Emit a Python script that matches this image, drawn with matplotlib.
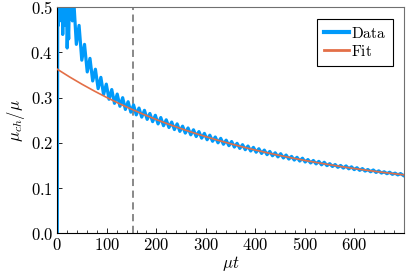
import matplotlib
matplotlib.use("Agg")
import matplotlib.pyplot as plt
from matplotlib.ticker import MultipleLocator

plt.rcParams['mathtext.fontset'] = 'cm'
plt.rcParams['font.family'] = ['DejaVu Serif']

# ---- data ----
# early irregular part
early_t = [0, 0.5, 1, 2, 3.5, 5, 6.5, 8, 9.5, 11, 12.5, 14, 15.5, 17, 18.5, 20, 21.5,
           23, 24.5, 26, 27.5, 29, 30.5]
early_v = [0, 0.25, 0.55, 0.46, 0.58, 0.47, 0.56, 0.49, 0.60, 0.44, 0.55, 0.48, 0.57,
           0.46, 0.52, 0.41, 0.47, 0.43, 0.52, 0.58, 0.49, 0.55, 0.47]

# oscillation maxima
peak_t = [33, 44, 55, 66, 77, 88, 99, 110, 121, 132, 143, 154, 165, 176, 187, 198, 209,
          220, 231, 242, 253, 264, 275, 286, 297, 308, 319, 330, 341, 352, 363, 374, 385,
          396, 407, 418, 429, 440, 451, 462, 473, 484, 495, 506, 517, 528, 539, 550, 561,
          572, 583, 594, 605, 616, 627, 638, 649, 660, 671, 682, 693]
peak_v = [0.521, 0.460, 0.418, 0.387, 0.363, 0.345, 0.330, 0.318, 0.308, 0.300, 0.291,
          0.284, 0.277, 0.272, 0.265, 0.261, 0.256, 0.251, 0.246, 0.242, 0.237, 0.233,
          0.229, 0.225, 0.221, 0.217, 0.213, 0.210, 0.206, 0.203, 0.199, 0.196, 0.193,
          0.190, 0.187, 0.184, 0.181, 0.178, 0.176, 0.173, 0.170, 0.168, 0.166, 0.163,
          0.161, 0.159, 0.157, 0.154, 0.152, 0.150, 0.149, 0.147, 0.145, 0.143, 0.141,
          0.140, 0.138, 0.136, 0.135, 0.133, 0.132]
# oscillation minima
trough_t = [38.5, 49.5, 60.5, 71.5, 82.5, 93.5, 104.5, 115.5, 126.5, 137.5, 148.5, 159.5,
            170.5, 181.5, 192.5, 203.5, 214.5, 225.5, 236.5, 247.5, 258.5, 269.5, 280.5,
            291.5, 302.5, 313.5, 324.5, 335.5, 346.5, 357.5, 368.5, 379.5, 390.5, 401.5,
            412.5, 423.5, 434.5, 445.5, 456.5, 467.5, 478.5, 489.5, 500.5, 511.5, 522.5,
            533.5, 544.5, 555.5, 566.5, 577.5, 588.5, 599.5, 610.5, 621.5, 632.5, 643.5,
            654.5, 665.5, 676.5, 687.5, 698.5]
trough_v = [0.418, 0.383, 0.357, 0.337, 0.320, 0.307, 0.2965, 0.2875, 0.281, 0.274, 0.268,
            0.262, 0.257, 0.252, 0.247, 0.242, 0.238, 0.234, 0.2295, 0.2255, 0.2216, 0.2178,
            0.214, 0.2104, 0.2069, 0.2035, 0.2001, 0.1969, 0.1938, 0.1907, 0.1877, 0.1849,
            0.182, 0.1793, 0.1766, 0.1739, 0.1715, 0.169, 0.1666, 0.1642, 0.162, 0.1598,
            0.1577, 0.1556, 0.1535, 0.1515, 0.1496, 0.1478, 0.1459, 0.1442, 0.1425, 0.1408,
            0.1392, 0.1376, 0.1361, 0.1346, 0.1332, 0.1318, 0.1304, 0.1291, 0.128]

fit_t = [0, 25, 50, 75, 100, 125, 150, 175, 200, 225, 250, 275, 300, 325, 350, 375, 400,
         425, 450, 475, 500, 525, 550, 575, 600, 625, 650, 675, 700]
fit_v = [0.363, 0.3458, 0.3297, 0.3146, 0.3004, 0.2870, 0.2745, 0.2627, 0.2516, 0.2412,
         0.2315, 0.2223, 0.2137, 0.2056, 0.1980, 0.1908, 0.1841, 0.1778, 0.1719, 0.1663,
         0.1611, 0.1562, 0.1516, 0.1472, 0.1431, 0.1393, 0.1357, 0.1324, 0.1292]

vline_t = 152

xticks = [0, 100, 200, 300, 400, 500, 600]
yticks = [0.0, 0.1, 0.2, 0.3, 0.4, 0.5]

# assemble the oscillating data series in time order
data_t = list(early_t)
data_v = list(early_v)
for pt, pv, tt, tv in zip(peak_t, peak_v, trough_t, trough_v):
    data_t += [pt, tt]
    data_v += [pv, tv]

BLUE = '#009AFA'
ORANGE = '#E36F47'

fig = plt.figure(figsize=(4.15, 2.77), dpi=100)
ax = fig.add_axes([0.138, 0.158, 0.9735 - 0.138, 0.9736 - 0.158])

ax.axvline(vline_t, color='#7f7f7f', lw=1.3, ls=(0, (4, 2.5)), zorder=1)
ax.plot(data_t, data_v, color=BLUE, lw=2.3, label=r'$\mathrm{Data}$', zorder=2,
        solid_joinstyle='round')
ax.plot(fit_t, fit_v, color=ORANGE, lw=1.2, label=r'$\mathrm{Fit}$', zorder=3)

ax.set_xlim(0, 700)
ax.set_ylim(0, 0.5)
ax.set_xticks(xticks)
ax.set_xticklabels([r'$%d$' % v for v in xticks])
ax.set_yticks(yticks)
ax.set_yticklabels([r'$%.1f$' % v for v in yticks])
ax.xaxis.set_minor_locator(MultipleLocator(20))
ax.tick_params(axis='both', which='major', direction='in', length=3.5, width=0.6,
               labelsize=12, top=False, right=False, pad=3)
ax.tick_params(axis='x', which='minor', direction='in', length=2, width=0.5, top=False)

for s in ['left', 'bottom']:
    ax.spines[s].set_color('black')
    ax.spines[s].set_linewidth(0.8)
for s in ['top', 'right']:
    ax.spines[s].set_color('#707070')
    ax.spines[s].set_linewidth(0.8)

ax.set_xlabel(r'$\mu t$', fontsize=12, labelpad=0)
ax.set_ylabel(r'$\mu_{ch}/\mu$', fontsize=12, labelpad=2)

leg = ax.legend(loc='upper right', fontsize=11, frameon=True, fancybox=False,
                edgecolor='black', framealpha=1, handlelength=1.6, handletextpad=0.15,
                borderpad=0.45, labelspacing=0.2, borderaxespad=0.75)
leg.get_frame().set_linewidth(0.8)
leg.get_lines()[0].set_linewidth(3)
leg.get_lines()[1].set_linewidth(2)

fig.savefig('out.png', dpi=100)
